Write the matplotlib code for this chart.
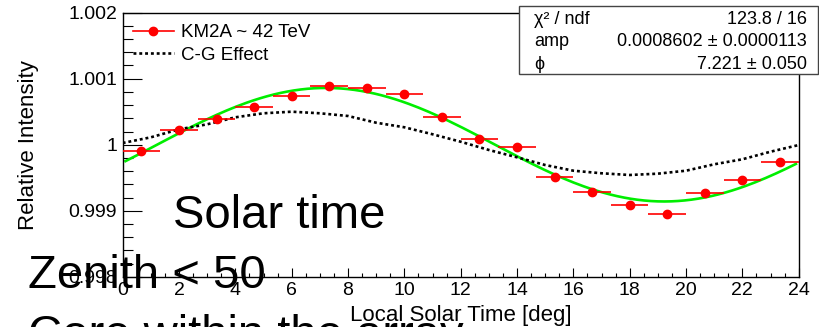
import numpy as np
import matplotlib
matplotlib.use("Agg")
import matplotlib.pyplot as plt
from matplotlib.lines import Line2D
from matplotlib.patches import Rectangle
from matplotlib.ticker import FixedLocator, MultipleLocator

plt.rcParams['font.family'] = ['Liberation Sans', 'DejaVu Sans']

# ---- data -----------------------------------------------------------------
n_bins = 18
bin_width = 24.0 / n_bins
solar_hour = np.arange(n_bins) * bin_width + bin_width / 2
km2a_intensity = [0.99990, 1.000223, 1.000385, 1.000567, 1.000738, 1.000889,
                  1.000855, 1.000773, 1.000424, 1.000082, 0.999961, 0.999515,
                  0.999288, 0.999086, 0.998955, 0.999264, 0.999465, 0.999733]

cg_hour = list(range(25))
cg_intensity = [1.000026, 1.000112, 1.000233, 1.000309, 1.000415, 1.000476,
                1.000500, 1.000476, 1.000435, 1.000333, 1.000264, 1.000158,
                1.000045, 0.999920, 0.999809, 0.999692, 0.999606, 0.999567,
                0.999541, 0.999561, 0.999606, 0.999703, 0.999779, 0.999894,
                0.999995]

# fit result (harmonic model)
chi2, ndf = 123.8, 16
amp, amp_err = 0.0008602, 0.0000113
phi, phi_err = 7.221, 0.050

x_ticks = list(range(0, 25, 2))
y_ticks = [0.998, 0.999, 1.000, 1.001, 1.002]
y_tick_labels = ["0.998", "0.999", "1", "1.001", "1.002"]

# ---- figure ---------------------------------------------------------------
W, H = 819, 327
fig = plt.figure(figsize=(W / 100, H / 100), dpi=100)


def fx(px):
    return px / W


def fy(py):
    return 1 - py / H


ax_l, ax_r, ax_t, ax_b = 122.7, 798.7, 12.7, 276.7
ax = fig.add_axes([fx(ax_l), fy(ax_b), fx(ax_r - ax_l), (ax_b - ax_t) / H])
ax.set_xlim(0, 24)
ax.set_ylim(0.998, 1.002)

# fitted harmonic
t_fit = np.linspace(0.1, 23.9, 200)
fit_curve = 1 + amp * np.cos(2 * np.pi * (t_fit - phi) / 24)
ax.plot(t_fit, fit_curve, color='#00ee00', lw=1.9, zorder=2)

# Compton-Getting expectation
ax.plot(cg_hour, cg_intensity, color='black', lw=1.9,
        linestyle=(0, (1.1, 1.1)), zorder=3)

# measured points
ax.errorbar(solar_hour, km2a_intensity, xerr=bin_width / 2, fmt='o',
            color='red', ms=6, elinewidth=1.2, capsize=0, zorder=4)

# axes styling
for s in ax.spines.values():
    s.set_color('black')
    s.set_linewidth(1.0)
ax.xaxis.set_major_locator(FixedLocator(x_ticks))
ax.xaxis.set_minor_locator(MultipleLocator(0.5))
ax.set_xticklabels([str(v) for v in x_ticks])
ax.yaxis.set_major_locator(FixedLocator(y_ticks))
ax.yaxis.set_minor_locator(MultipleLocator(0.0002))
ax.set_yticklabels(y_tick_labels)
ax.tick_params(axis='both', which='both', direction='in', top=False,
               right=False, color='black', width=0.8, labelsize=14)
ax.tick_params(axis='y', which='major', length=13.7, pad=4)
ax.tick_params(axis='y', which='minor', length=7.2)
ax.tick_params(axis='x', which='major', length=6.5, pad=3.5)
ax.tick_params(axis='x', which='minor', length=3.2)

fig.text(fx(28.5), fy((ax_t + ax_b) / 2), "Relative Intensity", rotation=90,
         ha='center', va='center', fontsize=16)
fig.text(fx((ax_l + ax_r) / 2), fy(321.5), "Local Solar Time [deg]",
         ha='center', va='baseline', fontsize=16)

# legend
handles = [Line2D([], [], color='red', marker='o', ms=6, lw=1.2),
           Line2D([], [], color='black', lw=1.9, linestyle=(0, (1.1, 1.1)))]
ax.legend(handles, ["KM2A ~ 42 TeV", "C-G Effect"], loc='upper left',
          bbox_to_anchor=(fx(132.7), fy(24)), bbox_transform=fig.transFigure,
          frameon=False, fontsize=13.5, borderpad=0, borderaxespad=0,
          handlelength=2.19, handletextpad=0.41, labelspacing=0.3,
          numpoints=1)

# fit statistics box
box = Rectangle((fx(519), fy(74)), fx(818 - 519), (74 - 6) / H,
                transform=fig.transFigure, facecolor='white',
                edgecolor='#444444', lw=1.0, zorder=10)
fig.add_artist(box)
rows = [("χ² / ndf", f"{chi2:.1f} / {ndf}"),
        ("amp", f"{amp:.7f} ± {amp_err:.7f}"),
        ("ϕ", f"{phi:.3f} ± {phi_err:.3f}")]
for i, (name, val) in enumerate(rows):
    yb = 24 + 22.5 * i
    fig.text(fx(534), fy(yb), name, ha='left', va='baseline', fontsize=13,
             zorder=11)
    fig.text(fx(806.7), fy(yb), val, ha='right', va='baseline', fontsize=13,
             zorder=11)

# selection notes
note_kw = dict(ha='left', va='baseline', fontsize=34, zorder=12)
fig.text(fx(172.7), fy(228.3), "Solar time", **note_kw)
fig.text(fx(28.3), fy(288.3), "Zenith < 50", **note_kw)
fig.text(fx(28.3), fy(348.3), "Core within the array", **note_kw)

fig.savefig("out.png", dpi=100)
